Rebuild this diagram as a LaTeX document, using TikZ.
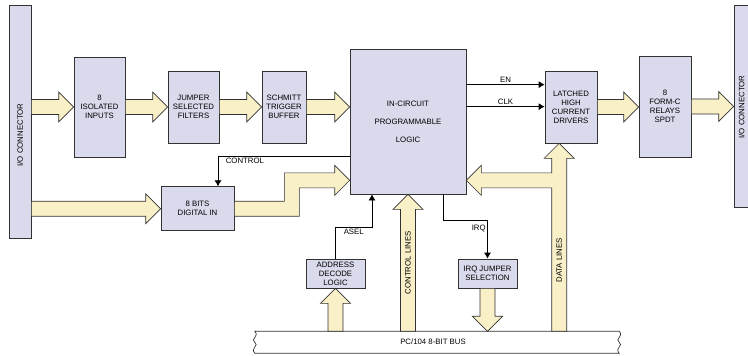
\documentclass[tikz,border=0pt]{standalone}
\usepackage{fontspec}
\setmainfont{Liberation Sans}
\usetikzlibrary{calc,arrows.meta}
\definecolor{boxfill}{RGB}{217,218,236}
\definecolor{busfill}{RGB}{250,240,200}
\definecolor{edge}{RGB}{50,50,50}
\tikzset{
  blk/.style={draw=edge, fill=boxfill, line width=0.7pt, align=center,
    inner sep=1pt, font=\fontsize{7.8}{9}\selectfont},
  fat/.style={draw=edge, fill=busfill, line width=0.7pt, line join=miter},
  sig/.style={draw=black, line width=0.7pt, -{Latex[length=6pt,width=7pt]}},
  lbl/.style={font=\fontsize{7.8}{9}\selectfont, inner sep=1.5pt},
}
% wide arrow to the right, from #1 to tip #2
\newcommand{\fatright}[2]{
  \draw[fat] ($(#1)+(0,-7.5)$) -- ($(#2)+(-15,-7.5)$) -- ($(#2)+(-15,-15)$)
    -- (#2) -- ($(#2)+(-15,15)$) -- ($(#2)+(-15,7.5)$) -- ($(#1)+(0,7.5)$) -- cycle;}
% wide vertical arrow, from #1 to tip #2, #3=1 up, #3=-1 down
\newcommand{\fatvert}[3]{
  \draw[fat] ($(#1)+(-7.5,0)$) -- ($(#2)+(-7.5,#3*15)$) -- ($(#2)+(-15,#3*15)$)
    -- (#2) -- ($(#2)+(15,#3*15)$) -- ($(#2)+(7.5,#3*15)$) -- ($(#1)+(7.5,0)$) -- cycle;}
\begin{document}
\begin{tikzpicture}[x=1pt,y=-1pt]
  \useasboundingbox (0,0) rectangle (748,356);
  % blocks
  \node[blk, minimum width=22, minimum height=233] (iol) at (20,121.5) {};
  \node[lbl, rotate=90] (iollbl) at (20,135) {I/O CONNECTOR};
  \node[blk, minimum width=22, minimum height=202] (ior) at (745,106) {};
  \node[lbl, rotate=90] (iorlbl) at (741.5,107) {I/O CONNECTOR};
  \node[blk, minimum width=51, minimum height=100] (iso) at (99.5,107) {8\\ISOLATED\\INPUTS};
  \node[blk, minimum width=51, minimum height=72] (jsf) at (193.5,107) {JUMPER\\SELECTED\\FILTERS};
  \node[blk, minimum width=44, minimum height=72] (stb) at (284,107) {SCHMITT\\TRIGGER\\BUFFER};
  \node[blk, minimum width=116, minimum height=145] (icpl) at (408,121.5)
    {IN-CIRCUIT\\[9pt]PROGRAMMABLE\\[9pt]LOGIC};
  \node[blk, minimum width=52, minimum height=72] (lhcd) at (571,107) {LATCHED\\HIGH\\CURRENT\\DRIVERS};
  \node[blk, minimum width=52, minimum height=101] (relay) at (665,106.5) {8\\FORM-C\\RELAYS\\SPDT};
  \node[blk, minimum width=73, minimum height=44] (dig) at (197.5,208.7) {8 BITS\\DIGITAL IN};
  \node[blk, minimum width=59, minimum height=29] (adl) at (335.5,273.5) {ADDRESS\\DECODE\\LOGIC};
  \node[blk, minimum width=59, minimum height=29] (irqj) at (487.5,273.5) {IRQ JUMPER\\SELECTION};

  % bus
  \node[minimum width=364, minimum height=21.5, inner sep=0] (bus) at (437,342.25) {};
  \draw[draw=edge, fill=white, line width=0.7pt] (bus.north west) -- (bus.north east)
    .. controls ($(bus.north east)+(5,5)$) and ($(bus.east)+(-5,-3)$) .. (bus.east)
    .. controls ($(bus.east)+(5,3)$) and ($(bus.south east)+(-5,-5)$) .. (bus.south east)
    -- (bus.south west)
    .. controls ($(bus.south west)+(-5,-5)$) and ($(bus.west)+(5,3)$) .. (bus.west)
    .. controls ($(bus.west)+(-5,-3)$) and ($(bus.north west)+(5,5)$) .. (bus.north west)
    -- cycle;
  \node[lbl] (buslbl) at (433,342) {PC/104 8-BIT BUS};

  % wide data paths
  \fatright{iol.east |- iso.west}{iso.west}
  \fatright{iso.east}{jsf.west}
  \fatright{jsf.east}{stb.west}
  \fatright{stb.east}{icpl.west |- stb.east}
  \fatright{lhcd.east}{relay.west |- lhcd.east}
  \fatright{relay.east}{ior.west |- relay.east}
  \fatright{iol.east |- dig.west}{dig.west}
  \fatvert{icpl.south |- bus.north}{icpl.south}{1}
  \fatvert{adl.south |- bus.north}{adl.south}{1}
  \fatvert{irqj.south}{irqj.south |- bus.north}{-1}

  \coordinate (tip) at ($(icpl.south west)+(0,-14)$);
  \coordinate (bend) at ($(dig.east)+(57.5,0)$);
  \draw[fat] ($(dig.east)+(0,-7.5)$) -- ($(bend)+(-7.5,-7.5)$)
    -- ($(bend |- tip)+(-7.5,-7.5)$) -- ($(tip)+(-15,-7.5)$) -- ($(tip)+(-15,-15)$)
    -- (tip) -- ($(tip)+(-15,15)$) -- ($(tip)+(-15,7.5)$)
    -- ($(bend |- tip)+(7.5,7.5)$) -- ($(bend)+(7.5,7.5)$) -- ($(dig.east)+(0,7.5)$) -- cycle;

  \coordinate (data) at ($(lhcd.south west)+(14.5,0)$);
  \coordinate (tap) at ($(icpl.south east)+(0,-14)$);
  \draw[fat] ($(data |- bus.north)+(-7.5,0)$) -- ($(data |- tap)+(-7.5,7.5)$)
    -- ($(tap)+(15,7.5)$) -- ($(tap)+(15,15)$) -- (tap) -- ($(tap)+(15,-15)$)
    -- ($(tap)+(15,-7.5)$) -- ($(data |- tap)+(-7.5,-7.5)$)
    -- ($(data)+(-7.5,15)$) -- ($(data)+(-15,15)$) -- (data) -- ($(data)+(15,15)$)
    -- ($(data)+(7.5,15)$) -- ($(data |- bus.north)+(7.5,0)$) -- cycle;

  \node[lbl, rotate=90] (ctllines) at ($(icpl.south)!0.5!(icpl.south |- bus.north)$) {CONTROL LINES};
  \node[lbl, rotate=90] (datalines) at ($(data |- bus.north)+(0,-71)$) {DATA LINES};

  % control signals
  \coordinate (en) at ($(icpl.north east)+(0,36)$);
  \coordinate (clk) at ($(icpl.north east)+(0,58)$);
  \draw[sig] (en) -- (en -| lhcd.west) node[lbl, midway, above] {EN};
  \draw[sig] (clk) -- (clk -| lhcd.west) node[lbl, midway, above] {CLK};

  \coordinate (ctl) at ($(icpl.north west)+(0,108)$);
  \draw[sig] (ctl) -| node[lbl, pos=0.5, below right, xshift=6pt] {CONTROL} ($(dig.north)+(20.5,0)$);

  \coordinate (asel) at ($(icpl.south)+(-36,33)$);
  \draw[sig] (adl.north) |- node[lbl, pos=0.75, below] {ASEL} (asel) -- (asel |- icpl.south);

  \coordinate (irq) at ($(icpl.south)+(35,26)$);
  \draw[sig] (irq |- icpl.south) -- (irq) -| node[lbl, pos=0.5, below left, yshift=-3pt] {IRQ} (irqj.north);
\end{tikzpicture}
\end{document}
